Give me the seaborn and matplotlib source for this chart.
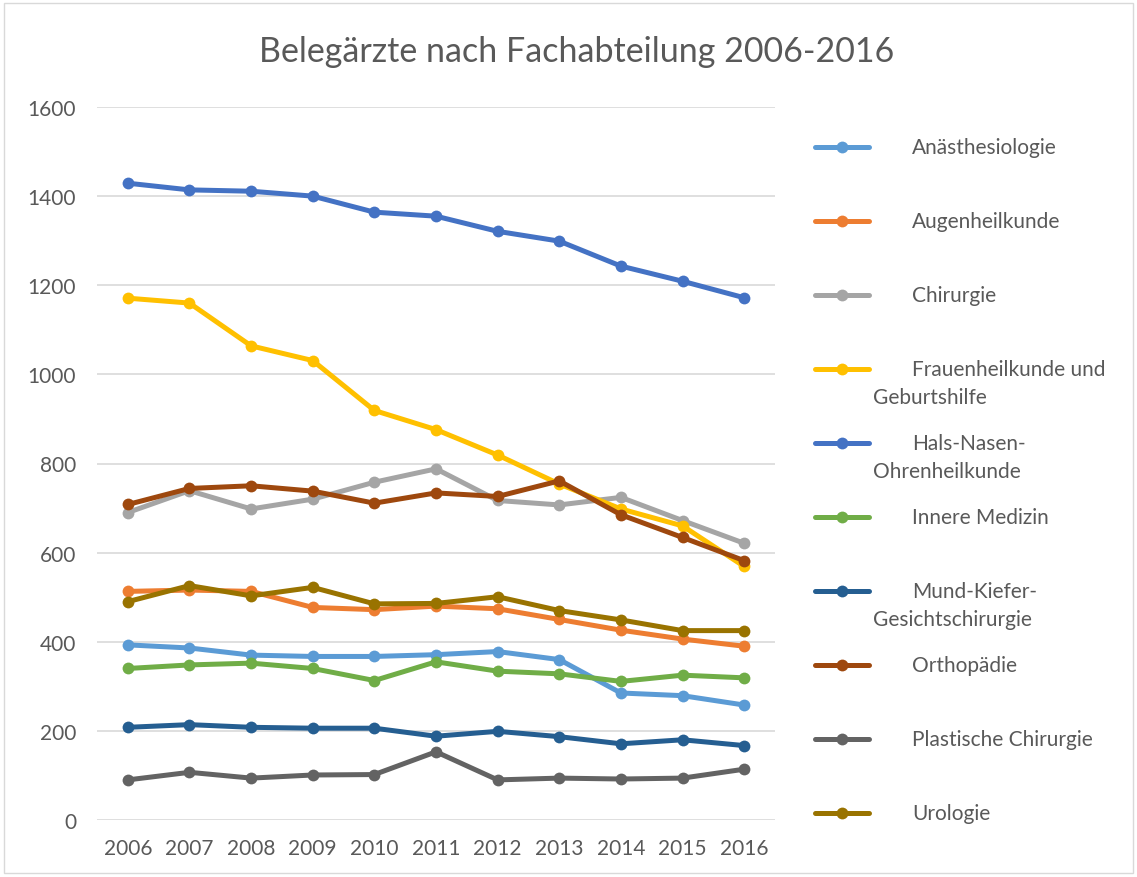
import pandas as pd
import matplotlib.pyplot as plt
import seaborn as sns
from matplotlib.lines import Line2D
from matplotlib.patches import Rectangle

# Daten
jahre = list(range(2006, 2017))

anaesthesiologie = [393, 386, 370, 367, 367, 371, 378, 360, 285, 279, 258]
augenheilkunde = [513, 516, 513, 477, 472, 480, 474, 450, 426, 406, 390]
chirurgie = [690, 739, 698, 720, 758, 788, 717, 707, 724, 672, 621]
frauenheilkunde = [1171, 1160, 1064, 1031, 919, 876, 819, 754, 698, 660, 569]
hno = [1429, 1414, 1411, 1400, 1364, 1355, 1321, 1299, 1243, 1209, 1172]
innere_medizin = [340, 348, 352, 340, 313, 355, 334, 328, 311, 325, 319]
mkg = [208, 214, 208, 206, 206, 188, 199, 187, 171, 180, 167]
orthopaedie = [708, 744, 750, 738, 711, 734, 726, 761, 685, 634, 582]
plastische = [90, 107, 94, 101, 102, 153, 90, 94, 92, 94, 114]
urologie = [490, 526, 503, 522, 485, 486, 501, 470, 449, 425, 425]

abteilungen = ['Anästhesiologie', 'Augenheilkunde', 'Chirurgie',
               'Frauenheilkunde und Geburtshilfe', 'Hals-Nasen-Ohrenheilkunde',
               'Innere Medizin', 'Mund-Kiefer-Gesichtschirurgie', 'Orthopädie',
               'Plastische Chirurgie', 'Urologie']
werte = [anaesthesiologie, augenheilkunde, chirurgie, frauenheilkunde, hno,
         innere_medizin, mkg, orthopaedie, plastische, urologie]
farben = ['#5B9BD5', '#ED7D31', '#A5A5A5', '#FFC000', '#4472C4',
          '#70AD47', '#255E91', '#9E480E', '#636363', '#997300']

# Legendentexte mit Umbruch wie im Original
legende_zeilen = [
    ('Anästhesiologie', None),
    ('Augenheilkunde', None),
    ('Chirurgie', None),
    ('Frauenheilkunde und', 'Geburtshilfe'),
    ('Hals-Nasen-', 'Ohrenheilkunde'),
    ('Innere Medizin', None),
    ('Mund-Kiefer-', 'Gesichtschirurgie'),
    ('Orthopädie', None),
    ('Plastische Chirurgie', None),
    ('Urologie', None),
]

rows = []
for name, vals in zip(abteilungen, werte):
    for j, v in zip(jahre, vals):
        rows.append({'Jahr': j, 'Anzahl': v, 'Fachabteilung': name})
df = pd.DataFrame(rows)

sns.set_style('white')
plt.rcParams['font.family'] = ['Lato', 'DejaVu Sans']
textfarbe = '#595959'
fs = 15

W, H = 1137, 878
fig = plt.figure(figsize=(W / 100, H / 100), dpi=100)
ax = fig.add_axes([97 / W, 1 - 821 / H, (775 - 97) / W, (821 - 108) / H])

sns.lineplot(data=df, x='Jahr', y='Anzahl', hue='Fachabteilung',
             hue_order=abteilungen, palette=dict(zip(abteilungen, farben)),
             marker='o', markersize=8.5, markeredgewidth=0, linewidth=3.6,
             legend=False, ax=ax)

ax.set_xlim(2005.5, 2016.5)
ax.set_ylim(0, 1600)
ax.set_yticks(range(0, 1601, 200))
ax.set_xticks(jahre)
ax.set_xticklabels([str(j) for j in jahre])
ax.yaxis.grid(True, color='#D9D9D9', linewidth=1.2)
ax.set_axisbelow(True)
for s in ax.spines.values():
    s.set_visible(False)
ax.tick_params(axis='both', length=0, labelsize=fs, colors=textfarbe)
ax.tick_params(axis='y', pad=15)
ax.tick_params(axis='x', pad=13)
ax.set_xlabel('')
ax.set_ylabel('')

fig.text(577 / W, 1 - 52 / H, 'Belegärzte nach Fachabteilung 2006-2016',
         ha='center', va='center', fontsize=24.5, color=textfarbe)

# Legende manuell (Excel-Stil)
for i, ((z1, z2), farbe) in enumerate(zip(legende_zeilen, farben)):
    y = 148 + i * 74
    fy = 1 - y / H
    fig.add_artist(Line2D([815 / W, 869 / W], [fy, fy], color=farbe,
                          linewidth=3.6, solid_capstyle='round',
                          transform=fig.transFigure))
    fig.add_artist(Line2D([842 / W], [fy], color=farbe, marker='o',
                          markersize=8.5, markeredgewidth=0,
                          transform=fig.transFigure))
    fig.text(912 / W, fy, z1, ha='left', va='center', fontsize=fs,
             color=textfarbe)
    if z2:
        fig.text(873 / W, 1 - (y + 28) / H, z2, ha='left', va='center',
                 fontsize=fs, color=textfarbe)

fig.add_artist(Rectangle((4 / W, 4 / H), 1 - 8 / W, 1 - 8 / H,
                         fill=False, edgecolor='#D9D9D9', linewidth=1,
                         transform=fig.transFigure))

fig.savefig('out.png', dpi=100, facecolor='white')
